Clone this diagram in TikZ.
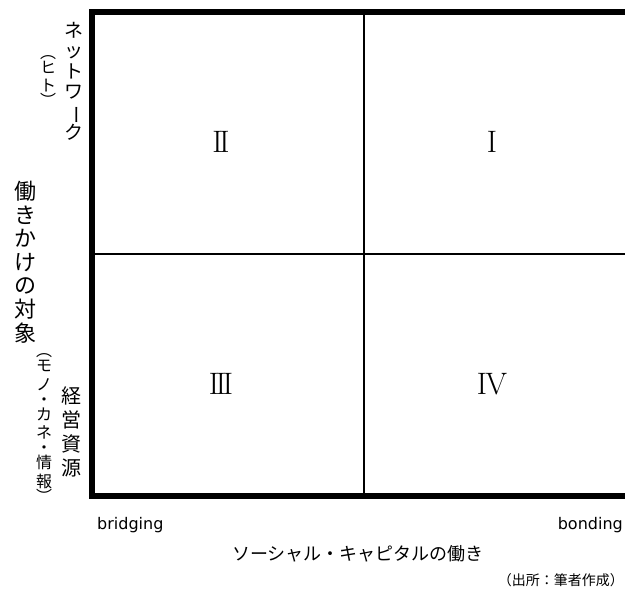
\documentclass[tikz,border=0pt]{standalone}
\usepackage{fontspec}
\usepackage{graphicx}
\newfontfamily\cjk{Noto Sans CJK JP}
\newfontfamily\lat{DejaVu Sans}
\newcommand\vchoon{\smash{\rotatebox[origin=c]{-90}{ー}}}
\newcommand\romsep{\kern-3.2pt}
\tikzset{
  frame/.style={line width=6pt, line join=miter},
  divider/.style={line width=1.4pt},
  vtext/.style={align=center, inner sep=0pt},
  numeral/.style={inner sep=0pt, font=\rmfamily\fontsize{31}{31}\selectfont},
  axislabel/.style={inner sep=0pt, font=\lat\fontsize{16}{18}\selectfont},
}
\begin{document}
\begin{tikzpicture}[x=1pt,y=-1pt]
\useasboundingbox (0,0) rectangle (625,592);
\begin{scope}
\clip (0,0) rectangle (625,592);
\coordinate (tl) at (91.5,12);
\coordinate (br) at (636.5,495.7);
\coordinate (tm) at (364,12);
\coordinate (bm) at (364,495.7);
\coordinate (ml) at (91.5,253.8);
\coordinate (mr) at (636.5,253.8);
\draw[divider] (tm) -- (bm);
\draw[divider] (ml) -- (mr);
\draw[frame] (tl) rectangle (br);
\end{scope}

\node[numeral] (q2) at (221,142) {I\romsep I};
\node[numeral] (q1) at (492,142) {I};
\node[numeral] (q3) at (221,384) {I\romsep I\romsep I};
\node[numeral] (q4) at (492,384) {I\kern-1.5pt V};

% left vertical labels
\node[vtext, font=\cjk\fontsize{19}{20.5}\selectfont] (net) at (74,81.5) {ネ\\ッ\\ト\\ワ\\\vchoon\\ク};
\node[vtext, font=\cjk\fontsize{16}{18.5}\selectfont] (hito) at (48,81) {︵\\[-3.5pt]ヒ\\ト\\[-3.5pt]︶};
\node[vtext, font=\cjk\fontsize{22}{23.6}\selectfont] (target) at (25,262) {働\\き\\か\\け\\の\\対\\象};
\node[vtext, font=\cjk\fontsize{20}{24}\selectfont] (res) at (71,432) {経\\営\\資\\源};
\node[vtext, font=\cjk\fontsize{16}{18.5}\selectfont] (mono) at (44,428) {︵\\[-3.5pt]モ\\ノ\\[-3.5pt]・\\[-3.5pt]カ\\ネ\\[-3.5pt]・\\[-3.5pt]情\\報\\[-3.5pt]︶};

% bottom labels
\node[axislabel, anchor=base west] (bridging) at (97,529) {bridging};
\node[axislabel, anchor=base east] (bonding) at (623,529) {bonding};
\node[inner sep=0pt, font=\cjk\fontsize{18}{20}\selectfont] (xlabel) at (358,554) {ソーシャル・キャピタルの働き};
\node[inner sep=0pt, anchor=east, font=\cjk\fontsize{14}{16}\selectfont] (source) at (624,580) {（出所：筆者作成）};
\end{tikzpicture}
\end{document}
